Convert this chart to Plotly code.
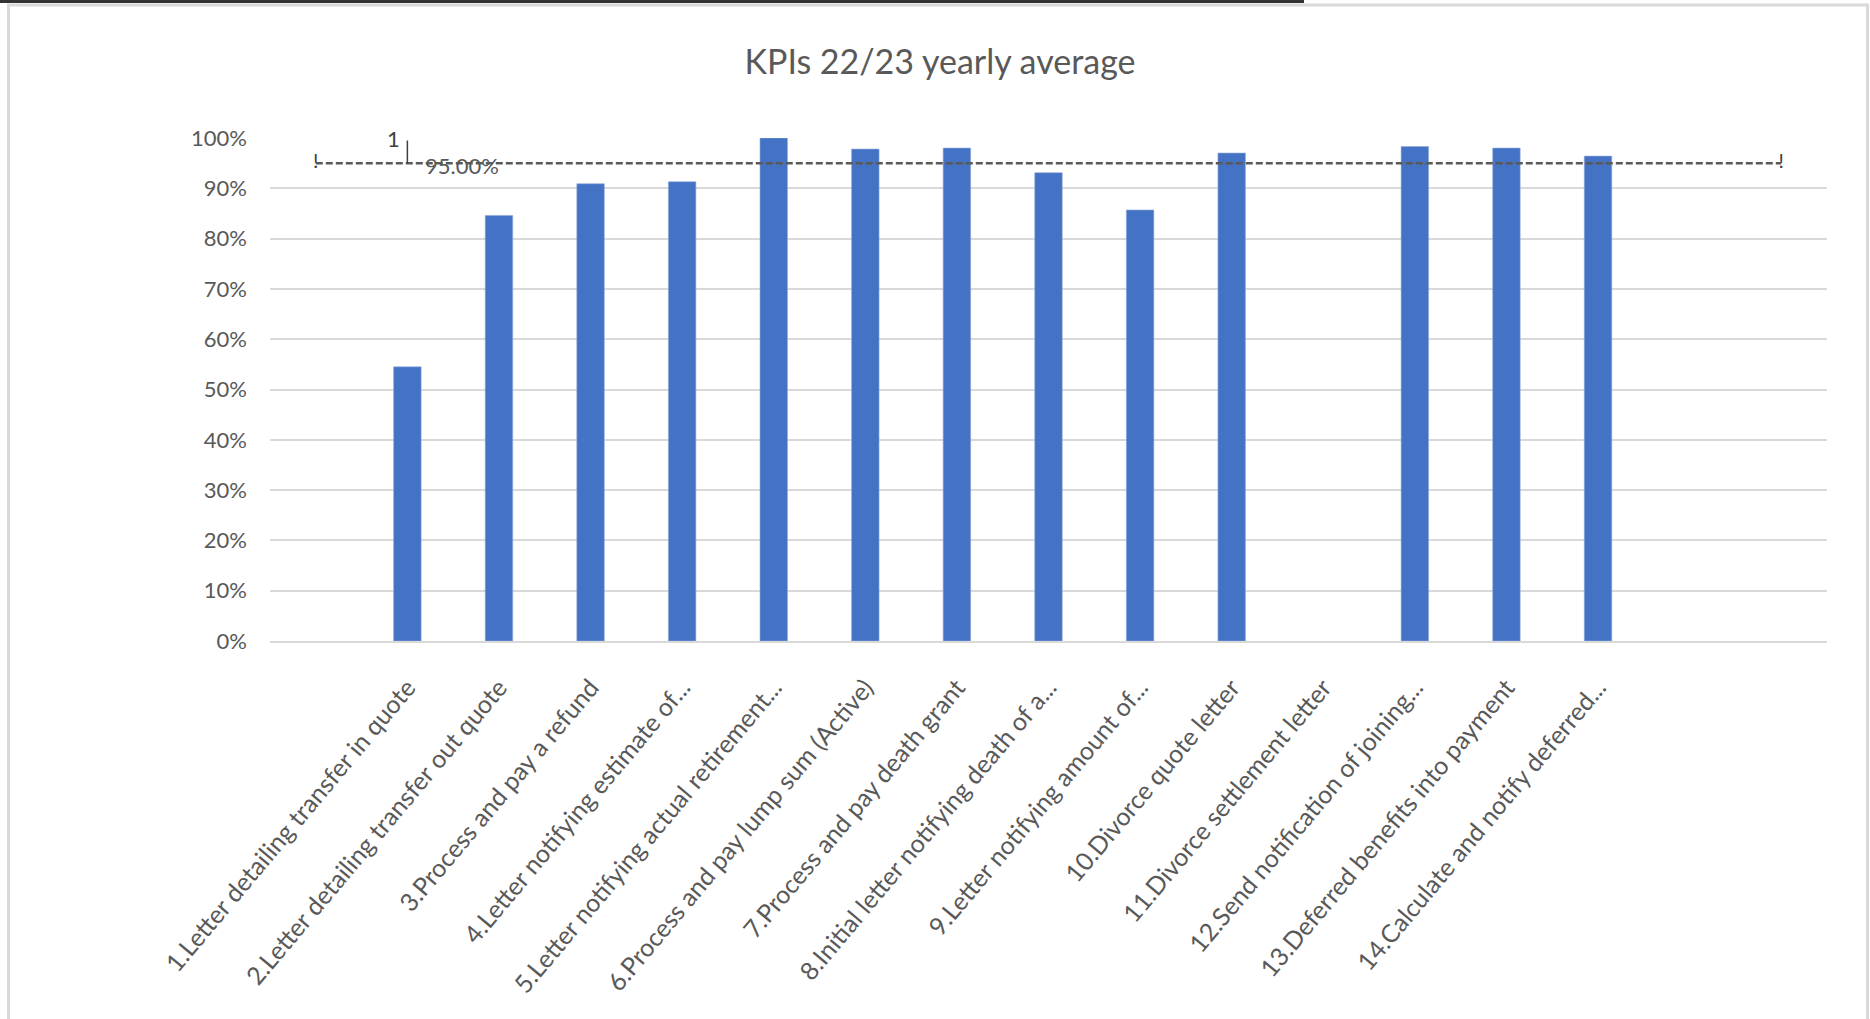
import plotly.graph_objects as go

# ---------------- data ----------------
categories = [
    "",
    "1.Letter detailing transfer in quote",
    "2.Letter detailing transfer out quote",
    "3.Process and pay a refund",
    "4.Letter notifying estimate of...",
    "5.Letter notifying actual retirement...",
    "6.Process and pay lump sum (Active)",
    "7.Process and pay death grant",
    "8.Initial letter notifying death of a...",
    "9.Letter notifying amount of...",
    "10.Divorce quote letter",
    "11.Divorce settlement letter",
    "12.Send notification of joining...",
    "13.Deferred benefits into payment",
    "14.Calculate and notify deferred...",
    "",
    "",
]
kpi_values = [None, 0.545, 0.846, 0.909, 0.913, 1.0, 0.978, 0.980, 0.931,
              0.857, 0.970, None, 0.983, 0.980, 0.964, None, None]
target_values = [0.95, 0.95, 0.95, 0.95, 0.95, 0.95, 0.95, 0.95, 0.95,
                 0.95, 0.95, 0.95, 0.95, 0.95, 0.95, 0.95, 0.95]
target_marks = ["!"] + [""] * 15 + ["!"]
target_label = "95.00%"
target_label_index = 1
y_ticks = [0, 0.1, 0.2, 0.3, 0.4, 0.5, 0.6, 0.7, 0.8, 0.9, 1.0]
title_text = "KPIs 22/23 yearly average"

positions = list(range(len(categories)))
label_pos = [p for p, c in zip(positions, categories) if c]
label_txt = [c for c in categories if c]

W, H = 1870, 1019
L, R, T, B = 270, 1827, 138, 641  # plot area pixels

def px(p):
    return (p - L) / (R - L)

def py(q):
    return (B - q) / (B - T)

FONT = "Lato"
GREY = "#595959"

fig = go.Figure()
fig.add_trace(go.Bar(
    x=positions, y=kpi_values, width=0.3,
    marker=dict(color="#4472C4", line=dict(color="#8fa9dc", width=0.6)),
    showlegend=False, hoverinfo="y",
))
fig.add_trace(go.Scatter(
    x=positions, y=target_values, mode="lines+text",
    text=target_marks, textposition="middle center",
    textfont=dict(family=FONT, size=20, color="#404040"),
    line=dict(color=GREY, width=2.5, dash="7px,3px"),
    showlegend=False, hoverinfo="skip",
))

tx = positions[target_label_index]
ty = target_values[target_label_index]
annotations = [
    dict(x=tx, y=ty, xref="x", yref="y", text=target_label, showarrow=False,
         xanchor="left", yanchor="middle", xshift=16, yshift=-2,
         font=dict(family=FONT, size=22, color=GREY)),
    dict(x=tx, y=1.0, xref="x", yref="y", text="1", showarrow=False,
         xanchor="center", yanchor="middle", xshift=-14, yshift=0,
         font=dict(family=FONT, size=22, color="#404040")),
]

shapes = [
    # small leader mark of the data label
    dict(type="line", xref="x", yref="y", x0=tx, x1=tx, y0=ty, y1=0.995,
         line=dict(color="#404040", width=1.5)),
    # outer chart frame (light grey)
    dict(type="rect", xref="paper", yref="paper",
         x0=px(8.5), x1=px(1867.5), y0=py(1030), y1=py(5),
         line=dict(color="#d9d9d9", width=3), fillcolor="rgba(0,0,0,0)",
         layer="below"),
    # dark line at the very top
    dict(type="line", xref="paper", yref="paper",
         x0=px(0), x1=px(1304), y0=py(1.5), y1=py(1.5),
         line=dict(color="#333333", width=3)),
]

fig.update_layout(
    width=W, height=H, autosize=False,
    margin=dict(l=L, r=W - R, t=T, b=H - B, pad=0, autoexpand=False),
    paper_bgcolor="white", plot_bgcolor="white",
    title=dict(text=title_text, x=940 / W, xanchor="center",
               y=1 - 62 / H, yanchor="middle",
               font=dict(family=FONT, size=34, color=GREY)),
    xaxis=dict(range=[-0.5, len(categories) - 0.5], automargin=False,
               tickmode="array", tickvals=label_pos, ticktext=label_txt,
               tickangle=-50, showgrid=False, zeroline=False,
               showline=True, linecolor="#d9d9d9", linewidth=2,
               ticks="", ticklabelstandoff=20,
               tickfont=dict(family=FONT, size=25, color=GREY)),
    yaxis=dict(range=[0, 1.0], tickmode="array", tickvals=y_ticks,
               tickformat=".0%", showgrid=True, gridcolor="#d9d9d9",
               gridwidth=2, zeroline=False, showline=False, ticks="",
               ticklabelstandoff=22, automargin=False,
               tickfont=dict(family=FONT, size=22, color=GREY)),
    annotations=annotations,
    shapes=shapes,
    bargap=0.7,
)

fig.write_html("out.html")
